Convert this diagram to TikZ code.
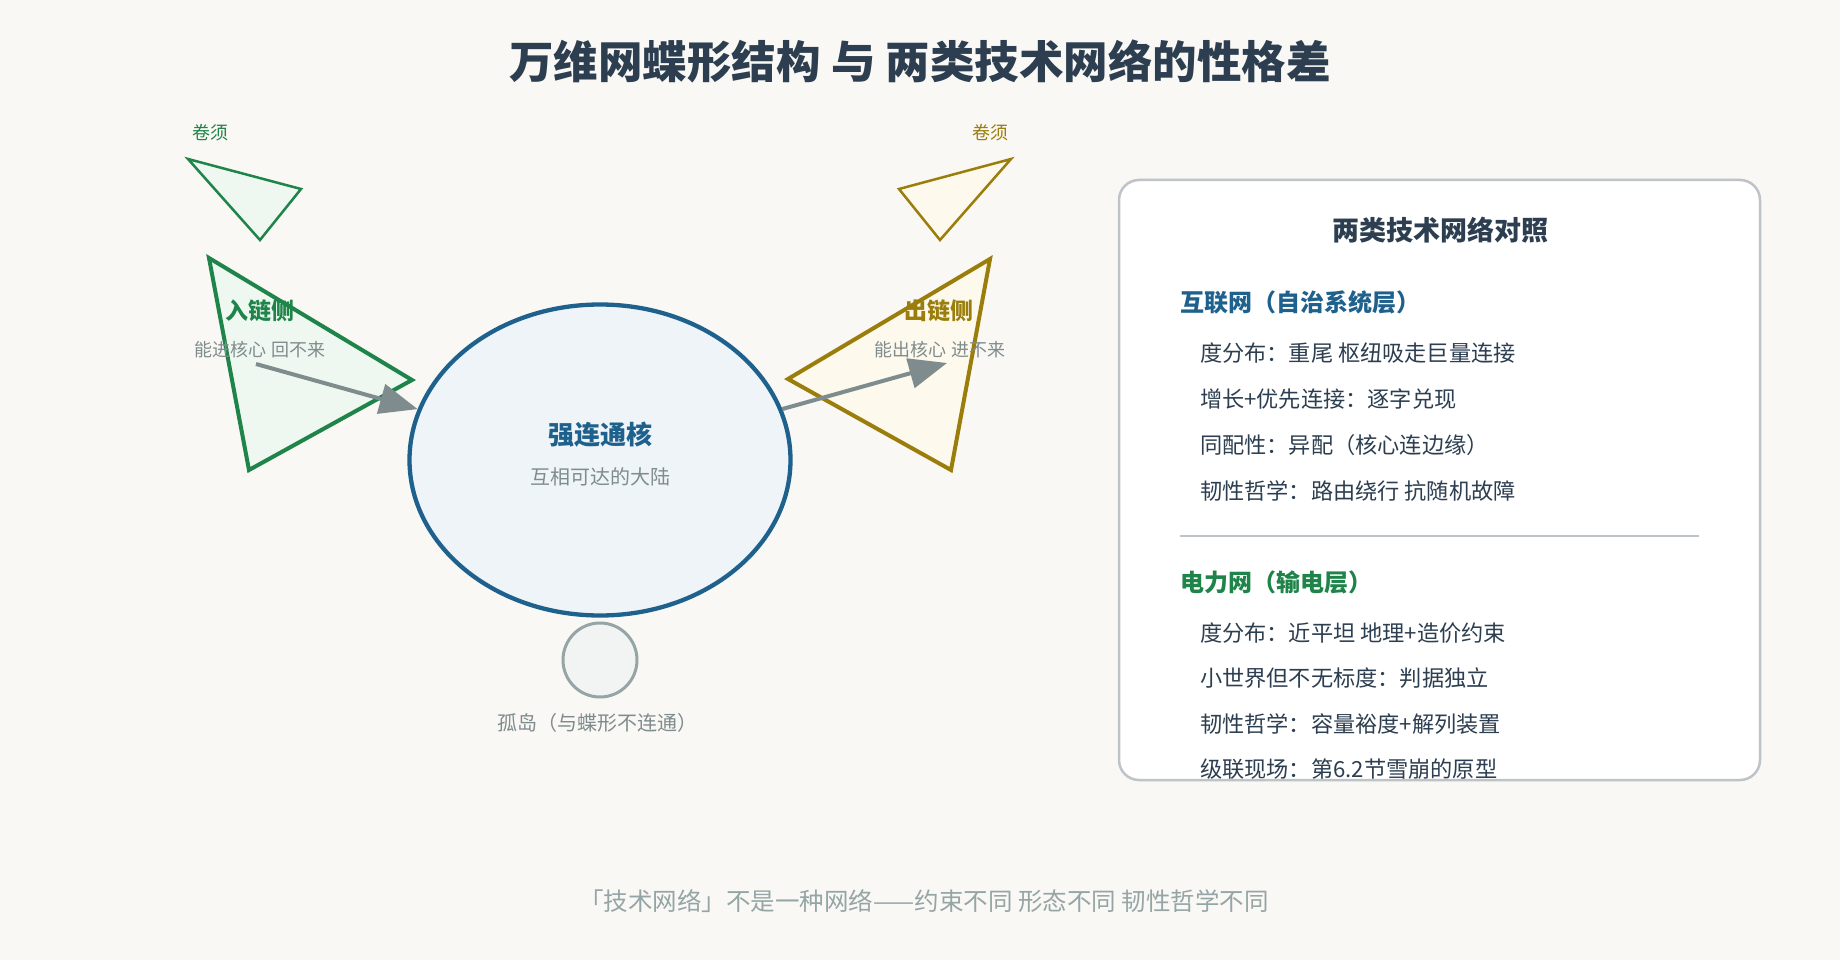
\documentclass[tikz,border=0pt]{standalone}
\usepackage{fontspec}
\setmainfont{Noto Sans CJK SC}
\usetikzlibrary{arrows.meta,shapes.geometric}
\definecolor{bg}{HTML}{F9F8F4}
\definecolor{dark}{HTML}{2C3E50}
\definecolor{grn}{HTML}{1E8449}
\definecolor{grnfill}{HTML}{EEF8F1}
\definecolor{olive}{HTML}{9A7D0A}
\definecolor{olivefill}{HTML}{FDF9EC}
\definecolor{blu}{HTML}{1F618D}
\definecolor{blufill}{HTML}{EEF4F8}
\definecolor{gry}{HTML}{7F8C8D}
\definecolor{lgry}{HTML}{95A5A6}
\definecolor{isofill}{HTML}{F2F4F4}
\definecolor{panelline}{HTML}{BDC3C7}
\newcommand\pxfont[1]{\fontsize{#1}{#1}\selectfont}
\tikzset{
  txt/.style={inner sep=0pt, outer sep=0pt},
  bigtri/.style={line width=4pt, line join=miter},
  smalltri/.style={line width=2.5pt, line join=miter},
  flow/.style={draw=gry, line width=4pt, -{Triangle[length=38pt,width=30pt]}},
  item/.style={txt, anchor=west, text=dark, font=\pxfont{22.2}},
  heading/.style={txt, anchor=west, font=\bfseries\pxfont{24}},
}
\begin{document}
\begin{tikzpicture}[x=1pt,y=-1pt]
\useasboundingbox[fill=bg] (0,0) rectangle (1840,960);

% title
\node[txt, text=dark, font=\bfseries\pxfont{44.5}] (title) at (920,61) {万维网蝶形结构 与 两类技术网络的性格差};

% tendrils
\node[txt, text=grn, font=\pxfont{18}] (tendL) at (210,133) {卷须};
\node[txt, text=olive, font=\pxfont{18}] (tendR) at (990,133) {卷须};
\draw[smalltri, draw=grn, fill=grnfill] (188,159) -- (301,189) -- (260,240) -- cycle;
\draw[smalltri, draw=olive, fill=olivefill] (1011,159) -- (899,189) -- (940,240) -- cycle;

% in / out triangles
\draw[bigtri, draw=grn, fill=grnfill] (209,258) -- (412,380) -- (249,470) -- cycle;
\draw[bigtri, draw=olive, fill=olivefill] (990,259) -- (788,379) -- (951,470) -- cycle;
\node[txt, text=grn, font=\bfseries\pxfont{23}] (inT) at (260,311) {入链侧};
\node[txt, text=gry, font=\pxfont{18}] (inS) at (260,350) {能进核心 回不来};
\node[txt, text=olive, font=\bfseries\pxfont{23}] (outT) at (939,311) {出链侧};
\node[txt, text=gry, font=\pxfont{18}] (outS) at (940,350) {能出核心 进不来};

% core
\node[ellipse, draw=blu, fill=blufill, line width=4.3pt, minimum width=381pt, minimum height=311pt, inner sep=0pt] (core) at (600,460) {};
\node[txt, text=blu, font=\bfseries\pxfont{26}] (coreT) at (600,435) {强连通核};
\node[txt, text=gry, font=\pxfont{20}] (coreS) at (600,477) {互相可达的大陆};

% island
\node[circle, draw=lgry, fill=isofill, line width=3pt, minimum size=74pt, inner sep=0pt] (island) at (600,660) {};
\node[txt, text=gry, font=\pxfont{20}] (islandT) at (597,723) {孤岛（与蝶形不连通）};

% arrows
\coordinate (inStart) at (256,364);
\coordinate (outEnd) at (947,363);
\draw[flow] (inStart) -- (core);
\draw[flow] (core) -- (outEnd);

% panel
\node[draw=panelline, fill=white, line width=2.5pt, rounded corners=20pt, minimum width=641pt, minimum height=600pt, inner sep=0pt] (panel) at (1439.5,480) {};
\node[txt, text=dark, font=\bfseries\pxfont{27}] (panelT) at (1440,230) {两类技术网络对照};
\node[heading, text=blu] (h1) at (1180,302) {互联网（自治系统层）};
\node[item] (a1) at (1200,353) {度分布：重尾 枢纽吸走巨量连接};
\node[item] (a2) at (1200,399) {增长+优先连接：逐字兑现};
\node[item] (a3) at (1200,445) {同配性：异配（核心连边缘）};
\node[item] (a4) at (1200,491) {韧性哲学：路由绕行 抗随机故障};
\coordinate (sepL) at (1180,536);
\coordinate (sepR) at (1699,536);
\draw[draw=panelline, line width=2pt] (sepL) -- (sepR);
\node[heading, text=grn] (h2) at (1180,582) {电力网（输电层）};
\node[item] (b1) at (1200,633) {度分布：近平坦 地理+造价约束};
\node[item] (b2) at (1200,678) {小世界但不无标度：判据独立};
\node[item] (b3) at (1200,724) {韧性哲学：容量裕度+解列装置};
\node[item] (b4) at (1200,769) {级联现场：第6.2节雪崩的原型};

% footer
\node[txt, text=lgry, font=\pxfont{24.5}] (footer) at (924,901) {「技术网络」不是一种网络——约束不同 形态不同 韧性哲学不同};
\end{tikzpicture}
\end{document}
